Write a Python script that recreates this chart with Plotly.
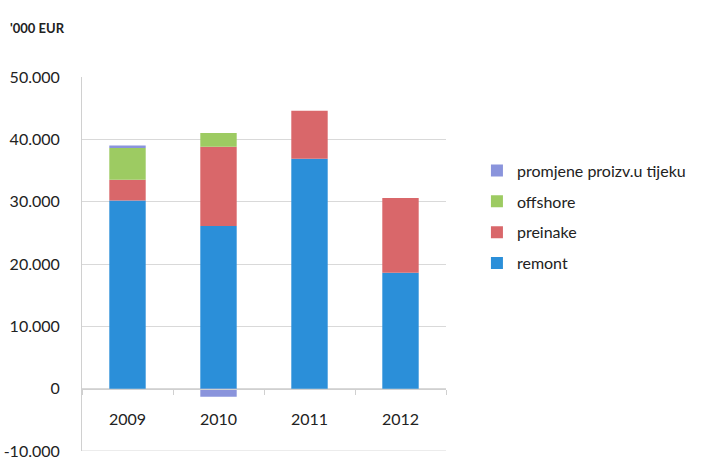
import plotly.graph_objects as go

years = ["2009", "2010", "2011", "2012"]
remont = [30200, 26100, 36900, 18600]
preinake = [3300, 12700, 7700, 12000]
offshore = [5100, 2200, 0, 0]
promjene = [400, -1300, 0, 0]

y_ticks = [-10000, 0, 10000, 20000, 30000, 40000, 50000]
y_labels = ["-10.000", "0", "10.000", "20.000", "30.000", "40.000", "50.000"]

series = [
    ("remont", remont, "#2B8FD9", 4),
    ("preinake", preinake, "#D9676A", 3),
    ("offshore", offshore, "#9DCB62", 2),
    ("promjene proizv.u tijeku", promjene, "#8A94DC", 1),
]

fig = go.Figure()
for name, vals, col, rank in series:
    fig.add_trace(go.Bar(x=years, y=vals, name=name, legendgroup=name, legendrank=rank,
                         marker=dict(color=col, line=dict(width=0))))

font = "Lato, 'Open Sans', sans-serif"
fig.update_layout(
    barmode="relative",
    bargap=0.6,
    width=709, height=459,
    margin=dict(l=82, r=263, t=77, b=8, autoexpand=False),
    paper_bgcolor="white", plot_bgcolor="white",
    font=dict(family=font, size=16, color="#222"),
    showlegend=True,
    legend=dict(traceorder="grouped", x=1.085, y=0.795, yanchor="top",
                font=dict(size=16, color="#222"), itemwidth=30, tracegroupgap=7,
                itemsizing="constant"),
    annotations=[dict(text="<b>'000 EUR</b>", xref="paper", yref="paper",
                      x=-0.203, y=1.13, xanchor="left", yanchor="middle",
                      showarrow=False, font=dict(size=13, color="#222"))],
    shapes=[dict(type="line", xref="paper", yref="y", x0=0, x1=1,
                 y0=y_ticks[0], y1=y_ticks[0], line=dict(color="#D9D9D9", width=1),
                 layer="below")],
)
fig.update_yaxes(range=[-10000, 50000], tickvals=y_ticks, ticktext=y_labels,
                 showgrid=True, gridcolor="#D9D9D9", gridwidth=1,
                 showline=True, linecolor="#D0D0D0", zeroline=False,
                 ticks="", ticklabelstandoff=18, automargin=False,
                 ticklabeloverflow="allow")
fig.update_xaxes(anchor="free", position=1/6, showline=True, linecolor="#D0D0D0",
                 ticks="outside", tickson="boundaries", ticklen=5, tickcolor="#D0D0D0",
                 ticklabelstandoff=16, showgrid=False, automargin=False)
fig.write_html("out.html", post_script="document.body.style.margin='0';",
               config={"displayModeBar": False})
